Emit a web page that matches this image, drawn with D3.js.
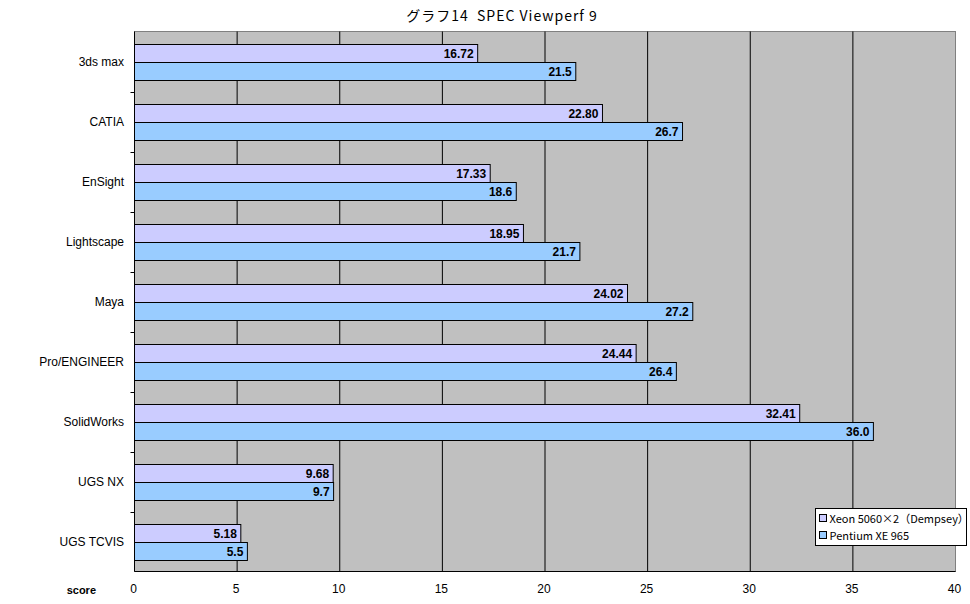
<!DOCTYPE html>
<html>
<head>
<meta charset="utf-8">
<script src="https://cdn.jsdelivr.net/npm/d3@7"></script>
<style>
  body { margin: 0; background: #fff; }
  text { font-family: "Liberation Sans", Arial, sans-serif; }
</style>
</head>
<body>
<div id="chart"></div>
<script>
const categories = ['3ds max', 'CATIA', 'EnSight', 'Lightscape', 'Maya', 'Pro/ENGINEER', 'SolidWorks', 'UGS NX', 'UGS TCVIS']
const seriesNames = ['Xeon 5060×2（Dempsey）', 'Pentium XE 965']
const xeonValues = [16.72, 22.80, 17.33, 18.95, 24.02, 24.44, 32.41, 9.68, 5.18]
const pentiumValues = [21.5, 26.7, 18.6, 21.7, 27.2, 26.4, 36.0, 9.7, 5.5]
const xTicks = [0, 5, 10, 15, 20, 25, 30, 35, 40]

const width = 970
const height = 604
const plot = { left: 134.5, right: 955.5, top: 31.5, bottom: 571.5 }
const colors = ['#ccccff', '#99ccff']
const formats = [d3.format('.2f'), d3.format('.1f')]

const svg = d3.select('#chart').append('svg')
  .attr('width', width)
  .attr('height', height)

const x = d3.scaleLinear().domain([0, 40]).range([plot.left, plot.right])
const y = d3.scaleBand().domain(categories).range([plot.top, plot.bottom])
const inner = d3.scaleBand().domain([0, 1]).range([0, y.bandwidth()]).paddingOuter(0.667)

// title
svg.append('text')
  .attr('x', 502).attr('y', 21)
  .attr('text-anchor', 'middle')
  .attr('xml:space', 'preserve')
  .style('white-space', 'pre')
  .style('font-family', '"Noto Sans CJK JP", sans-serif')
  .style('font-size', '14px')
  .style('letter-spacing', '1px')
  .text('グラフ14  SPEC Viewperf 9')

// plot background
svg.append('rect')
  .attr('x', plot.left).attr('y', plot.top)
  .attr('width', plot.right - plot.left).attr('height', plot.bottom - plot.top)
  .attr('fill', '#c0c0c0').attr('stroke', '#808080')

// gridlines
svg.append('g').selectAll('line')
  .data(xTicks.slice(1, -1))
  .join('line')
  .attr('x1', d => x(d)).attr('x2', d => x(d))
  .attr('y1', plot.top).attr('y2', plot.bottom)
  .attr('stroke', '#000')

// left and bottom axis lines
svg.append('line').attr('x1', plot.left).attr('x2', plot.left)
  .attr('y1', plot.top).attr('y2', plot.bottom).attr('stroke', '#000')
svg.append('line').attr('x1', plot.left).attr('x2', plot.right)
  .attr('y1', plot.bottom).attr('y2', plot.bottom).attr('stroke', '#000')

// category boundary ticks
svg.append('g').selectAll('line')
  .data(categories.slice(1))
  .join('line')
  .attr('x1', plot.left - 4).attr('x2', plot.left)
  .attr('y1', d => Math.round(y(d)) + 0.5).attr('y2', d => Math.round(y(d)) + 0.5)
  .attr('stroke', '#000')

// bars
const series = [xeonValues, pentiumValues]
series.forEach((vals, si) => {
  const g = svg.append('g')
  const by = (d, i) => Math.round(y(categories[i]) + inner(si)) + 0.5
  g.selectAll('rect')
    .data(vals)
    .join('rect')
    .attr('x', plot.left)
    .attr('y', by)
    .attr('width', d => x(d) - plot.left)
    .attr('height', Math.round(inner.bandwidth()))
    .attr('fill', colors[si])
    .attr('stroke', '#000')
  g.selectAll('text')
    .data(vals)
    .join('text')
    .attr('x', d => x(d) - 4)
    .attr('y', (d, i) => by(d, i) + inner.bandwidth() / 2 + 4.5)
    .attr('text-anchor', 'end')
    .style('font-size', '12px')
    .style('font-weight', 'bold')
    .text(d => formats[si](d))
})

// category labels
svg.append('g').selectAll('text')
  .data(categories)
  .join('text')
  .attr('x', 124)
  .attr('y', d => y(d) + y.bandwidth() / 2 + 4)
  .attr('text-anchor', 'end')
  .style('font-size', '12px')
  .text(d => d)

// x tick labels
svg.append('g').selectAll('text')
  .data(xTicks)
  .join('text')
  .attr('x', d => x(d) - 1)
  .attr('y', 593)
  .attr('text-anchor', 'middle')
  .style('font-size', '12px')
  .text(d => d)

svg.append('text')
  .attr('x', 96).attr('y', 594)
  .attr('text-anchor', 'end')
  .style('font-size', '11px')
  .style('font-weight', 'bold')
  .text('score')

// legend
const legend = svg.append('g').attr('transform', 'translate(815.5,508.5)')
legend.append('rect')
  .attr('width', 151).attr('height', 37)
  .attr('fill', '#fff').attr('stroke', '#000')
seriesNames.forEach((name, i) => {
  legend.append('rect')
    .attr('x', 4).attr('y', 6 + i * 17)
    .attr('width', 7).attr('height', 7)
    .attr('fill', colors[i]).attr('stroke', '#000')
  legend.append('text')
    .attr('x', 14).attr('y', 14 + i * 17)
    .style('font-family', '"Noto Sans CJK JP", sans-serif')
    .style('font-size', '11px')
    .text(name)
})
</script>
</body>
</html>
